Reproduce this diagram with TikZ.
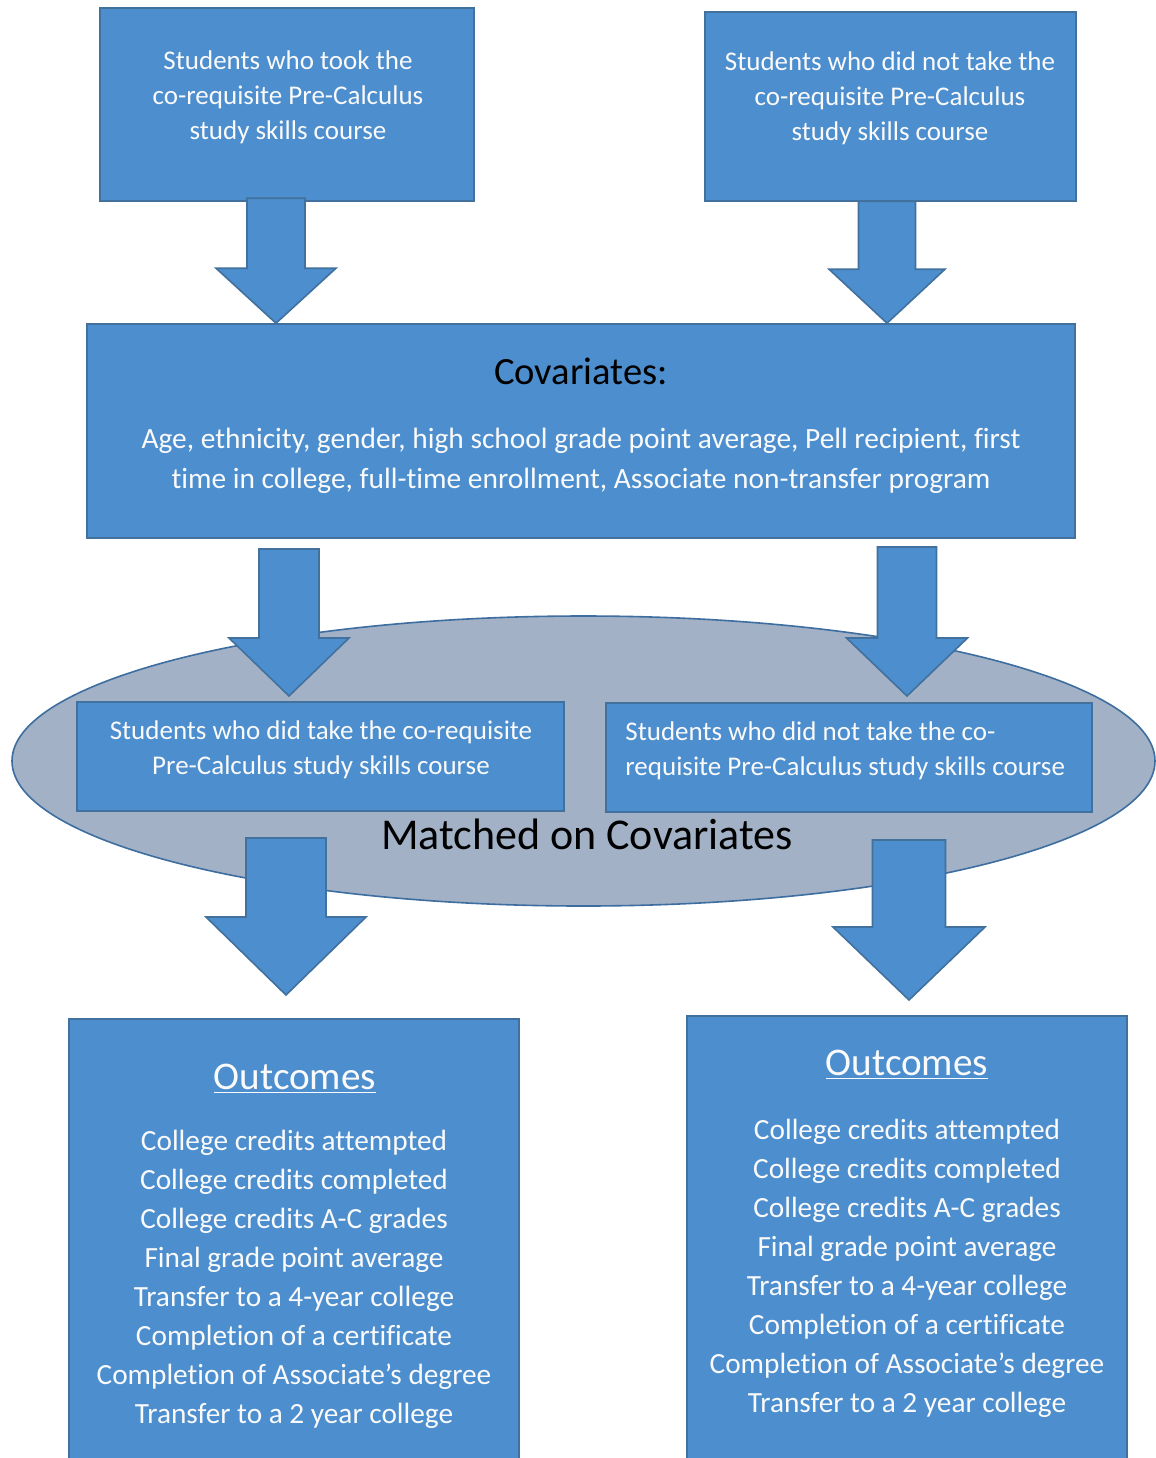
\documentclass[tikz,border=0pt]{standalone}
\usepackage{fontspec}
\setmainfont{Carlito}[Ligatures=NoCommon]
\usetikzlibrary{fit,shapes.geometric}
\definecolor{boxblue}{RGB}{76,142,206}
\definecolor{bord}{RGB}{65,113,156}
\definecolor{ellfill}{RGB}{162,177,198}
\definecolor{ellbord}{RGB}{62,110,160}
\definecolor{txtw}{RGB}{250,250,250}
\newcommand{\blockarrow}[6]{%
  \coordinate (#1) at #2;
  \draw[barrow] (#1) -- ++(-#4,-#5) -- ++({#4-#3},0) -- ++(0,-#6) -- ++({2*#3},0) -- ++(0,#6) -- ++({#4-#3},0) -- cycle;
}
\begin{document}
\begin{tikzpicture}[x=0.5pt,y=-0.5pt,
  bx/.style={draw=bord, fill=boxblue, line width=0.8pt, inner sep=0pt},
  barrow/.style={draw=bord, fill=boxblue, line width=0.8pt, line join=miter},
  wtxt/.style={text=txtw, inner sep=0pt, align=center},
  btxt/.style={text=black, inner sep=0pt, align=center},
  ftop/.style={font=\fontsize{13.5}{17.5}\selectfont},
  fcovt/.style={font=\fontsize{19.3}{23}\selectfont},
  fcovb/.style={font=\fontsize{14.7}{20}\selectfont},
  fmatch/.style={font=\fontsize{22}{26}\selectfont},
  fout/.style={font=\fontsize{14.65}{19.5}\selectfont},
  fouth/.style={font=\fontsize{19.6}{24}\selectfont}]
\fill[white] (0,0) rectangle (1156,1458);
\useasboundingbox (0,0) rectangle (1156,1458);

% top boxes
\node[bx, fit={(100,8) (474,201)}] (tl) {};
\node[wtxt, ftop] (tlt) at (288,97.5) {Students who took the\\co-requisite Pre-Calculus\\study skills course};
\node[bx, fit={(705,12) (1076,201)}] (tr) {};
\node[wtxt, ftop] (trt) at (890,98.5) {Students who did not take the\\co-requisite Pre-Calculus\\study skills course};

% covariates box
\node[bx, fit={(87,324) (1075,538)}] (cov) {};
\node[btxt, fcovt] (covt) at (581,371) {Covariates:};
\node[wtxt, fcovb] (covb) at (581,461) {Age, ethnicity, gender, high school grade point average, Pell recipient, first\\time in college, full-time enrollment, Associate non-transfer program};

% top arrows
\blockarrow{a1}{(276,0 |- cov.north)}{29}{60}{55}{70}
\blockarrow{a2}{(887,0 |- cov.north)}{28.5}{58}{54}{68}

% ellipse
\node[ellipse, draw=ellbord, fill=ellfill, line width=0.8pt, inner sep=0pt,
      minimum width=571.5pt, minimum height=145pt] (match) at (583.5,761) {};

% middle boxes
\node[bx, fit={(77,702) (564,811)}] (ml) {};
\node[wtxt, ftop] (mlt) at (321,749.5) {Students who did take the co-requisite\\Pre-Calculus study skills course};
\node[bx, fit={(606,703) (1092,812)}] (mr) {};
\node[wtxt, ftop, anchor=west, align=left] (mrt) at (625,750.5) {Students who did not take the co-\\requisite Pre-Calculus study skills course};

% middle arrows
\blockarrow{a3}{(289,696)}{30}{60}{58}{89}
\blockarrow{a4}{(907,696)}{29.5}{60.5}{58}{91}

\node[btxt, fmatch] (matcht) at (587,834) {Matched on Covariates};

% bottom arrows
\blockarrow{a5}{(286,995)}{40}{80}{78}{79}
\blockarrow{a6}{(909,1000)}{36.5}{76}{73}{87}

% outcome boxes
\node[bx, fit={(69,1019) (519,1470)}] (ol) {};
\node[wtxt, fouth] (olh) at (295,1079) {\underline{Outcomes}};
\node[wtxt, fout] (olt) at (294,1279) {College credits attempted\\College credits completed\\College credits A-C grades\\Final grade point average\\Transfer to a 4-year college\\Completion of a certificate\\Completion of Associate’s degree\\Transfer to a 2 year college};
\node[bx, fit={(687,1016) (1127,1470)}] (or) {};
\node[wtxt, fouth] (orh) at (907,1065) {\underline{Outcomes}};
\node[wtxt, fout] (ort) at (907,1268) {College credits attempted\\College credits completed\\College credits A-C grades\\Final grade point average\\Transfer to a 4-year college\\Completion of a certificate\\Completion of Associate’s degree\\Transfer to a 2 year college};
\end{tikzpicture}
\end{document}
